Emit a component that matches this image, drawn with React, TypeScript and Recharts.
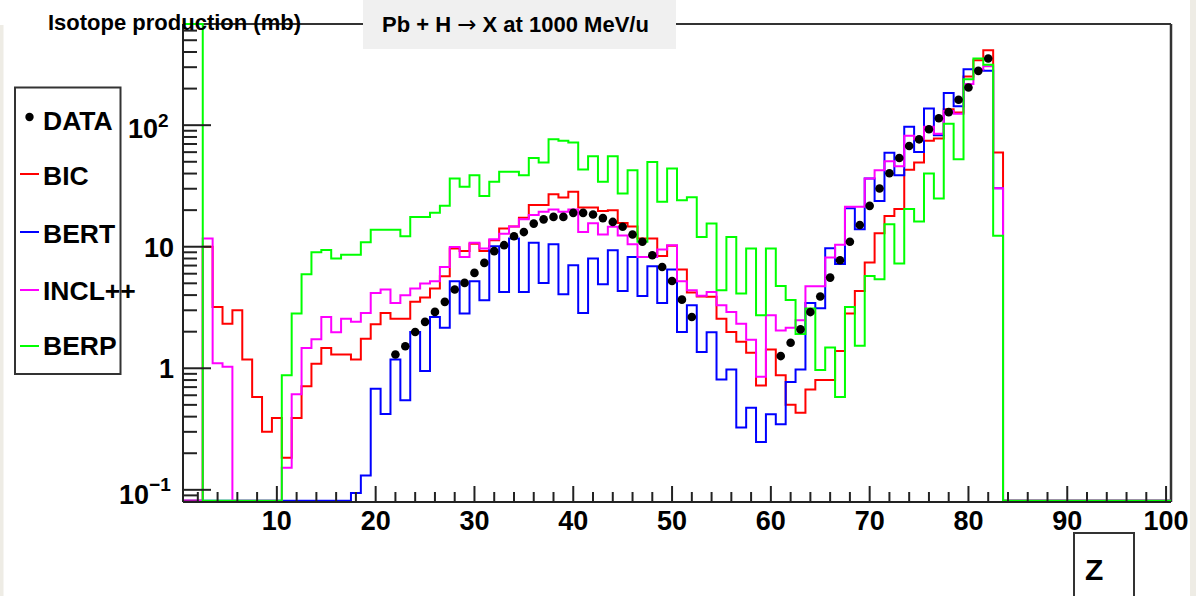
import React from "react";
import { ComposedChart, Line, Scatter, XAxis, YAxis } from "recharts";

const W = 1196;
const H = 596;
const PLOT = { left: 183, top: 24, right: 1171, bottom: 502 };
const Y_AXIS_W = 60;
const X_AXIS_H = 60;
const FONT = '"Liberation Sans", Arial, Helvetica, sans-serif';

const Z_DOMAIN: [number, number] = [0.5, 100.5];
const Y_MIN = 0.0794;
const Y_MAX = 680;
// empty bins are drawn along the bottom of the frame
const EMPTY_LEVEL = Y_MIN * 1.025;

// Z = 1 .. 100 (bin contents, mb). 0 = empty bin.
const BIC = [
  0, 0, 10, 3.2, 2.33, 3.0, 1.18, 0.58, 0.3, 0.39,
  0.184, 0.39, 0.71, 1.09, 1.47, 1.3, 1.3, 1.18, 1.75, 2.3,
  2.85, 2.56, 2.56, 3.52, 3.82, 4.53, 5.72, 9.66, 9.24, 10.6,
  9.24, 11.3, 14.1, 14.7, 17.3, 22.0, 22.0, 27.0, 25.4, 28.3,
  21.0, 21.0, 19.7, 20.0, 15.7, 14.7, 11.7, 11.7, 8.4, 10.2,
  6.5, 4.2, 3.9, 3.87, 2.56, 1.99, 1.65, 1.34, 0.72, 1.43,
  0.875, 0.5, 0.43, 0.67, 0.8, 0.8, 1.39, 2.82, 4.33, 7.41,
  12.9, 17.9, 20.4, 42.9, 49.3, 74.3, 77.7, 135, 127, 252,
  343, 414, 59.6, 0, 0, 0, 0, 0, 0, 0,
  0, 0, 0, 0, 0, 0, 0, 0, 0, 0,
];

const BERT = [
  0, 0, 0, 0, 0, 0, 0, 0, 0, 0,
  0, 0, 0, 0, 0, 0, 0, 0.094, 0.131, 0.68,
  0.42, 1.18, 0.545, 1.99, 0.95, 2.64, 2.16, 5.2, 2.82, 5.2,
  3.63, 10.1, 4.25, 11.7, 4.25, 10.8, 5.04, 10.5, 4.06, 7.04,
  2.85, 8.0, 4.91, 9.36, 4.33, 8.25, 3.94, 6.91, 3.44, 6.49,
  1.99, 3.3, 1.36, 1.98, 0.81, 0.975, 0.325, 0.474, 0.248, 0.418,
  0.346, 0.77, 0.975, 3.44, 3.12, 9.7, 7.2, 20.7, 13.9, 36.5,
  23.8, 59.2, 38.8, 96.9, 60.3, 137, 82.7, 184, 143, 289,
  284, 280, 30.3, 0, 0, 0, 0, 0, 0, 0,
  0, 0, 0, 0, 0, 0, 0, 0, 0, 0,
];

const INCL = [
  0, 0, 11.7, 1.1, 1.03, 0, 0, 0, 0, 0,
  0.152, 0.61, 1.47, 1.73, 2.64, 1.98, 2.56, 2.41, 2.85, 4.17,
  4.45, 3.44, 3.99, 4.53, 4.98, 5.2, 6.82, 9.97, 8.25, 10.8,
  9.66, 11.5, 12.8, 14.7, 16.8, 18.2, 19.4, 20.2, 19.4, 20.2,
  13.2, 15.6, 12.6, 14.6, 12.4, 10.5, 8.25, 8.25, 9.5, 10.3,
  5.2, 4.39, 3.95, 4.25, 3.3, 2.91, 2.33, 1.72, 0.85, 2.73,
  2.05, 2.16, 2.48, 4.74, 4.74, 8.15, 10.4, 21.3, 21.3, 36.5,
  42.6, 50.5, 46.0, 81.7, 76.7, 96.9, 85.0, 131, 124, 218,
  287, 305, 30.3, 0, 0, 0, 0, 0, 0, 0,
  0, 0, 0, 0, 0, 0, 0, 0, 0, 0,
];

const BERP = [
  680, 680, 0, 0, 0, 0, 0, 0, 0, 0,
  0.875, 2.82, 5.94, 9.0, 9.4, 8.0, 8.6, 8.6, 10.9, 13.8,
  13.8, 13.8, 12.2, 17.6, 17.6, 19.0, 21.7, 36.4, 31.1, 38.8,
  26.2, 34.2, 41.3, 41.3, 38.8, 53.8, 49.3, 76.7, 74.3, 72.0,
  43.2, 55.6, 34.2, 55.6, 27.4, 42.6, 11.0, 49.9, 23.4, 44.0,
  24.1, 25.5, 12.0, 15.5, 4.38, 12.0, 4.12, 9.66, 2.73, 9.66,
  4.75, 3.65, 1.91, 3.1, 0.97, 1.48, 0.58, 3.2, 1.53, 5.75,
  5.4, 15.3, 7.27, 20.4, 16.1, 40.0, 24.9, 103, 52.5, 239,
  354, 314, 12.3, 0, 0, 0, 0, 0, 0, 0,
  0, 0, 0, 0, 0, 0, 0, 0, 0, 0,
];

const DATA_Z = [
  22, 23, 24, 25, 26, 27, 28, 29, 30, 31, 32, 33, 34, 35, 36, 37, 38, 39, 40, 41,
  42, 43, 44, 45, 46, 47, 48, 49, 50, 51, 52,
  61, 62, 63, 64, 65, 66, 67, 68, 69, 70, 71, 72, 73, 74, 75, 76, 77, 78, 79, 80, 81, 82,
];
const DATA_VAL = [
  1.3, 1.52, 1.99, 2.41, 2.91, 3.52, 4.45, 5.04, 6.09, 7.36, 9.2, 10.3, 12.2, 13.2, 15.5,
  16.8, 17.6, 17.6, 19.0, 19.0, 18.4, 17.2, 16.0, 14.6, 12.6, 11.0, 8.5, 6.82, 5.22, 3.67, 2.64,
  1.26, 1.62, 2.09, 2.9, 3.9, 5.57, 7.74, 11.0, 15.1, 21.7, 30.1, 40.2, 53.7, 67.4, 76.5,
  92.5, 114, 128, 162, 204, 280, 354,
];

const X_TICKS = [
  2, 4, 6, 8, 10, 12, 14, 16, 18, 20, 22, 24, 26, 28, 30, 32, 34, 36, 38, 40,
  42, 44, 46, 48, 50, 52, 54, 56, 58, 60, 62, 64, 66, 68, 70, 72, 74, 76, 78, 80,
  82, 84, 86, 88, 90, 92, 94, 96, 98, 100,
];
const X_LABELS = [10, 20, 30, 40, 50, 60, 70, 80, 90, 100];

const Y_TICKS = [
  0.08, 0.09,
  0.1, 0.2, 0.3, 0.4, 0.5, 0.6, 0.7, 0.8, 0.9,
  1, 2, 3, 4, 5, 6, 7, 8, 9,
  10, 20, 30, 40, 50, 60, 70, 80, 90,
  100, 200, 300, 400, 500, 600,
];
const Y_MAJOR = [0.1, 1, 10, 100];

const SERIES = [
  { key: "bic", name: "BIC", color: "#ff0000", values: BIC },
  { key: "bert", name: "BERT", color: "#0000ff", values: BERT },
  { key: "incl", name: "INCL++", color: "#ff00ff", values: INCL },
  { key: "berp", name: "BERP", color: "#00ff00", values: BERP },
];
const LEGEND_ORDER = ["BIC", "BERT", "INCL++", "BERP"];

// histogram outline: one point per lower bin edge, plus the last upper edge
const rows = Array.from({ length: 101 }, (_, i) => {
  const b = Math.min(i, 99);
  const row: Record<string, number> = { x: i + 0.5 };
  SERIES.forEach((s) => {
    const v = s.values[b];
    row[s.key] = v > 0 ? v : EMPTY_LEVEL;
  });
  return row;
});

const dataPoints = DATA_Z.map((z, i) => ({ x: z, y: DATA_VAL[i] }));

const AXIS_COLOR = "#222";

function XTick(props: any) {
  const { x, y, payload } = props;
  const v = payload.value as number;
  const major = X_LABELS.includes(v);
  return (
    <g>
      <line x1={x} x2={x} y1={y} y2={y - (major ? 16 : 10)} stroke={AXIS_COLOR} strokeWidth={2} />
      {major && (
        <text x={x} y={y + 28} textAnchor="middle" fontFamily={FONT} fontWeight="bold" fontSize={27} fill="#000">
          {v}
        </text>
      )}
    </g>
  );
}

function YTick(props: any) {
  const { x, y, payload } = props;
  const v = payload.value as number;
  const major = Y_MAJOR.includes(v);
  let label: React.ReactNode = null;
  if (v === 100) {
    label = (
      <text x={x - 55} y={y + 13} fontFamily={FONT} fontWeight="bold" fontSize={27} fill="#000">
        10
        <tspan fontSize={19} dy={-11}>2</tspan>
      </text>
    );
  } else if (v === 0.1) {
    label = (
      <text x={x - 64} y={y + 14} fontFamily={FONT} fontWeight="bold" fontSize={27} fill="#000">
        10
        <tspan fontSize={19} dy={-13}>{"\u22121"}</tspan>
      </text>
    );
  } else if (v === 1 || v === 10) {
    label = (
      <text x={x - 9} y={y + 10} textAnchor="end" fontFamily={FONT} fontWeight="bold" fontSize={27} fill="#000">
        {v}
      </text>
    );
  }
  return (
    <g>
      <line x1={x} x2={x + (major ? 28 : 14)} y1={y} y2={y} stroke={AXIS_COLOR} strokeWidth={2} />
      {label}
    </g>
  );
}

const DataDot = (p: any) => <circle cx={p.cx} cy={p.cy} r={4.3} fill="#000" />;

export default function App() {
  const legendRows = [
    { name: "DATA", color: "#000", dot: true, base: 130, mid: 117 },
    ...LEGEND_ORDER.map((n, i) => {
      const s = SERIES.find((q) => q.name === n)!;
      const base = [185, 243, 300, 355][i];
      const mid = [174, 232, 290, 346][i];
      return { name: n, color: s.color, dot: false, base, mid };
    }),
  ];

  return (
    <div style={{ position: "absolute", left: 0, top: 0, width: W, height: H, background: "#fff", overflow: "hidden" }}>
      {/* background decorations and frame */}
      <svg width={W} height={H} style={{ position: "absolute", left: 0, top: 0 }}>
        <rect x={0} y={25} width={3.5} height={H - 25} fill="#eeece5" />
        <rect x={1190} y={0} width={6} height={H} fill="#eeece5" />
        <line x1={PLOT.left} x2={PLOT.right} y1={PLOT.top} y2={PLOT.top} stroke="#333" strokeWidth={2} />
        <line x1={PLOT.right} x2={PLOT.right} y1={PLOT.top} y2={PLOT.bottom} stroke="#333" strokeWidth={2.5} />
      </svg>

      <div style={{ position: "absolute", left: 0, top: 0 }}>
        <ComposedChart
          width={W}
          height={H}
          data={rows}
          margin={{
            top: PLOT.top,
            right: W - PLOT.right,
            bottom: H - PLOT.bottom - X_AXIS_H,
            left: PLOT.left - Y_AXIS_W,
          }}
        >
          <XAxis
            dataKey="x"
            type="number"
            domain={Z_DOMAIN}
            ticks={X_TICKS}
            interval={0}
            tickSize={0}
            tickMargin={0}
            tickLine={false}
            tick={(p: any) => <XTick {...p} />}
            axisLine={{ stroke: AXIS_COLOR, strokeWidth: 2 }}
            height={X_AXIS_H}
          />
          <YAxis
            type="number"
            scale="log"
            domain={[Y_MIN, Y_MAX]}
            ticks={Y_TICKS}
            interval={0}
            tickSize={0}
            tickMargin={0}
            tickLine={false}
            tick={(p: any) => <YTick {...p} />}
            axisLine={{ stroke: AXIS_COLOR, strokeWidth: 2 }}
            width={Y_AXIS_W}
          />
          {SERIES.map((s) => (
            <Line
              key={s.key}
              dataKey={s.key}
              name={s.name}
              type="stepAfter"
              stroke={s.color}
              strokeWidth={2}
              dot={false}
              activeDot={false}
              isAnimationActive={false}
            />
          ))}
          <Scatter
            name="DATA"
            data={dataPoints}
            dataKey="y"
            fill="#000"
            shape={DataDot}
            isAnimationActive={false}
          />
        </ComposedChart>
      </div>

      {/* titles, legend, axis label */}
      <svg width={W} height={H} style={{ position: "absolute", left: 0, top: 0, pointerEvents: "none" }}>
        <text x={48} y={29.5} fontFamily={FONT} fontWeight="bold" fontSize={22} fill="#000">
          Isotope production (mb)
        </text>
        <rect x={363} y={0} width={313} height={49} fill="#f0f0f0" />
        <text x={382} y={31.5} fontFamily={FONT} fontWeight="bold" fontSize={22} fill="#000">
          {"Pb + H "}
          <tspan fontWeight="normal" fontFamily='"DejaVu Sans", sans-serif' fontSize={23}>{"\u2192"}</tspan>
          {" X at 1000 MeV/u"}
        </text>

        <rect x={15} y={87.5} width={105.5} height={286.5} fill="#fff" stroke="#333" strokeWidth={2} />
        {legendRows.map((r) => (
          <g key={r.name}>
            {r.dot ? (
              <circle cx={29.5} cy={r.mid} r={4.2} fill="#000" />
            ) : (
              <line x1={20} x2={39} y1={r.mid} y2={r.mid} stroke={r.color} strokeWidth={2} />
            )}
            <text x={43} y={r.base} fontFamily={FONT} fontWeight="bold" fontSize={26.5} fill="#000">
              {r.name}
            </text>
          </g>
        ))}

        <rect x={1074} y={533} width={60} height={80} fill="#fff" stroke="#333" strokeWidth={2} />
        <text x={1085} y={580} fontFamily={FONT} fontWeight="bold" fontSize={30} fill="#000">
          Z
        </text>
      </svg>
    </div>
  );
}
